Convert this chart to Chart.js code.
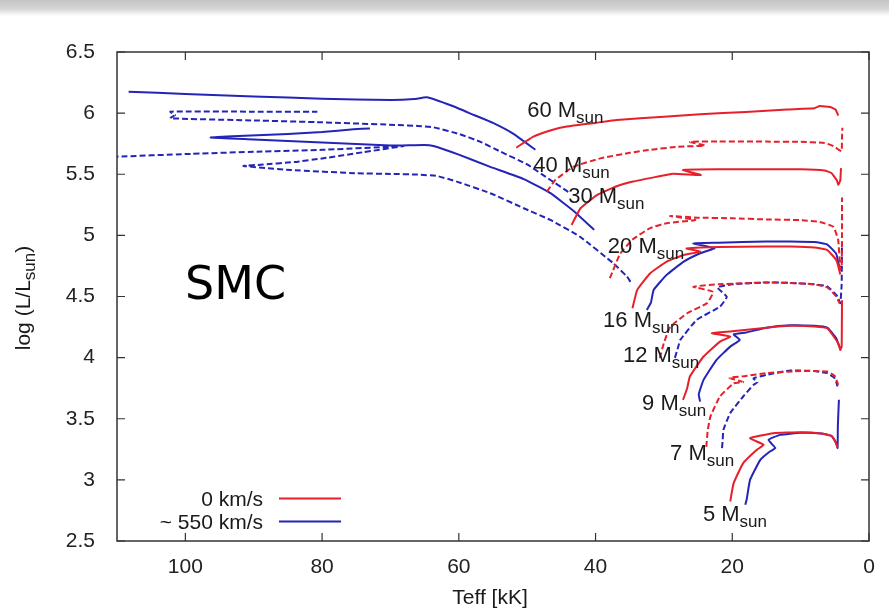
<!DOCTYPE html>
<html><head><meta charset="utf-8">
<script src="https://cdn.jsdelivr.net/npm/chart.js@4.4.1/dist/chart.umd.min.js"></script>
<style>
html,body{margin:0;padding:0;background:#fff;}
#wrap{position:relative;width:889px;height:612px;overflow:hidden;}
#band{position:absolute;left:0;top:0;width:889px;height:16px;background:linear-gradient(#c4c4c4,#d6d6d6 55%,#ffffff);}
canvas{position:absolute;left:0;top:0;}
</style></head>
<body><div id="wrap"><div id="band"></div><canvas id="c" width="889" height="612"></canvas></div>
<script>
// ---- data (Teff [kK], log L/Lsun) ----
const xTickValues = [100, 80, 60, 40, 20, 0];
const xTickLabels = ['100', '80', '60', '40', '20', '0'];
const yTickValues = [6.5, 6, 5.5, 5, 4.5, 4, 3.5, 3, 2.5];
const yTickLabels = ['6.5', '6', '5.5', '5', '4.5', '4', '3.5', '3', '2.5'];

// non-rotating (0 km/s)
const red60 = [[51.6,5.717],[49.1,5.807],[46.5,5.86],[44.2,5.89],[40.0,5.92],[36.9,5.944],[30.0,5.97],[24.7,5.99],[18.0,6.01],[12.0,6.03],[8.0,6.04],[7.2,6.058],[5.7,6.05],[4.9,6.03],[4.5,5.98]];
const red40 = [[47.1,5.358],[45.9,5.453],[43.2,5.562],[39.3,5.63],[35.0,5.675],[32.0,5.70],[28.0,5.725],[24.0,5.735],[26.2,5.765],[22.0,5.768],[15.0,5.767],[10.0,5.765],[6.5,5.756],[5.2,5.73],[4.4,5.70],[4.0,5.69],[3.95,5.80],[3.9,5.88]];
const red30 = [[43.5,5.085],[42.2,5.222],[39.8,5.33],[37.0,5.40],[34.5,5.44],[31.0,5.48],[28.7,5.505],[24.6,5.494],[27.2,5.535],[22.0,5.54],[15.0,5.54],[10.0,5.54],[6.5,5.53],[5.5,5.51],[4.7,5.45],[4.5,5.413],[4.2,5.45],[4.1,5.55]];
const red20 = [[37.9,4.65],[36.4,4.85],[34.5,4.97],[32.0,5.06],[29.6,5.10],[25.4,5.126],[29.1,5.159],[25.0,5.145],[20.0,5.14],[15.0,5.13],[10.0,5.125],[7.2,5.11],[5.2,5.07],[4.5,4.96],[4.2,4.72],[4.0,4.75],[3.95,5.0],[3.95,5.31]];
const red16 = [[34.6,4.404],[33.9,4.554],[32.0,4.69],[29.6,4.785],[27.1,4.84],[24.7,4.867],[26.7,4.893],[22.0,4.905],[15.0,4.91],[11.5,4.908],[8.0,4.90],[6.1,4.88],[4.8,4.80],[4.5,4.75],[4.2,4.68]];
const red12 = [[30.6,3.996],[30.0,4.12],[29.1,4.25],[26.6,4.363],[23.7,4.445],[22.8,4.538],[25.7,4.58],[22.0,4.60],[15.0,4.615],[11.5,4.611],[8.0,4.60],[6.1,4.575],[4.8,4.50],[4.3,4.445]];
const red9 = [[27.2,3.655],[26.6,3.75],[26.2,3.845],[24.2,4.009],[21.8,4.131],[20.3,4.172],[23.0,4.20],[20.0,4.215],[15.0,4.245],[11.5,4.26],[8.0,4.255],[6.1,4.24],[4.5,4.118],[4.2,4.063],[4.0,4.09],[3.95,4.47]];
const red7 = [[23.8,3.27],[23.6,3.40],[23.2,3.518],[21.8,3.682],[19.8,3.79],[18.4,3.80],[20.4,3.835],[18.0,3.85],[15.0,3.873],[10.0,3.89],[6.1,3.886],[5.0,3.85],[4.5,3.777]];
const red5 = [[20.3,2.823],[19.8,2.973],[18.4,3.137],[16.4,3.246],[15.4,3.287],[17.4,3.341],[14.0,3.382],[10.0,3.39],[7.0,3.38],[5.5,3.36],[4.8,3.30],[4.6,3.262]];

// rotating (~550 km/s)
const blue60 = [[48.8,5.70],[52.0,5.83],[55.0,5.92],[57.8,5.985],[61.0,6.06],[64.7,6.13],[66.5,6.115],[70.0,6.107],[80.0,6.118],[90.0,6.137],[100.0,6.157],[108.3,6.175]];
const blue40 = [[44.0,5.356],[46.6,5.453],[50.0,5.58],[53.9,5.685],[56.9,5.767],[60.0,5.83],[63.7,5.884],[66.0,5.895],[69.0,5.903],[80.0,5.925],[90.0,5.94],[102.2,5.958],[101.5,5.985],[102.2,6.012],[90.0,6.012],[80.7,6.012]];
const blue30 = [[40.2,5.045],[43.0,5.19],[46.6,5.345],[50.5,5.46],[55.4,5.56],[60.0,5.66],[63.7,5.731],[65.1,5.74],[70.0,5.735],[80.0,5.76],[90.0,5.785],[96.3,5.80],[94.0,5.808],[85.0,5.83],[80.0,5.845],[75.4,5.868],[73.0,5.875]];
const blue20 = [[34.9,4.62],[35.4,4.663],[37.4,4.772],[42.3,4.99],[46.6,5.126],[50.5,5.222],[55.4,5.345],[60.3,5.44],[63.2,5.486],[66.0,5.497],[70.0,5.503],[74.9,5.508],[84.6,5.535],[91.5,5.568],[89.0,5.578],[84.0,5.60],[79.8,5.631],[74.0,5.68],[68.1,5.731],[70.0,5.725],[80.0,5.70],[89.5,5.685],[100.0,5.665],[110.0,5.644]];
const blue16 = [[32.5,4.39],[31.9,4.45],[31.5,4.554],[29.6,4.677],[27.1,4.785],[24.7,4.854],[22.6,4.895],[25.7,4.935],[22.0,4.94],[15.0,4.95],[11.5,4.949],[8.0,4.945],[6.1,4.925],[4.8,4.85],[4.5,4.78],[4.2,4.71]];
const blue12 = [[28.4,3.998],[28.0,4.07],[27.6,4.145],[25.2,4.309],[21.8,4.417],[20.8,4.497],[22.2,4.575],[20.0,4.60],[15.0,4.615],[11.5,4.611],[8.0,4.60],[6.1,4.583],[4.6,4.50],[4.2,4.445],[4.0,4.6],[3.95,4.95]];
const blue9 = [[24.7,3.64],[24.9,3.70],[24.2,3.818],[22.3,3.982],[20.3,4.09],[18.9,4.145],[19.8,4.19],[18.0,4.205],[15.0,4.245],[11.5,4.265],[8.0,4.26],[6.1,4.245],[4.8,4.16],[4.4,4.10],[4.1,4.07]];
const blue7 = [[21.5,3.26],[21.4,3.33],[21.3,3.409],[20.3,3.546],[18.4,3.682],[16.9,3.777],[16.3,3.80],[16.9,3.83],[15.0,3.859],[11.5,3.895],[8.0,3.89],[6.1,3.873],[5.0,3.83],[4.6,3.764]];
const blue5 = [[18.1,2.796],[17.9,2.837],[17.4,3.0],[15.9,3.164],[14.5,3.232],[13.7,3.26],[14.7,3.327],[13.0,3.368],[10.0,3.385],[7.0,3.38],[5.5,3.36],[4.8,3.30],[4.6,3.262],[4.55,3.45],[4.4,3.655]];

const masses = ['60', '40', '30', '20', '16', '12', '9', '7', '5'];
const redTracks = [red60, red40, red30, red20, red16, red12, red9, red7, red5];
const blueTracks = [blue60, blue40, blue30, blue20, blue16, blue12, blue9, blue7, blue5];
const dashedMass = ['40', '20', '12', '7'];
// label anchors (Teff, logL) for the mass annotations
const labelT = [50.0, 49.1, 44.0, 38.2, 38.9, 36.0, 33.2, 29.1, 24.3];
const labelL = [5.97, 5.519, 5.263, 4.857, 4.254, 3.968, 3.573, 3.164, 2.66];
const legendLabels = ['0 km/s', '~ 550 km/s'];

// ---- styling ----
const RED = '#e6202a', BLUE = '#2424b8';
const FONT = '"Liberation Sans", Arial, Helvetica, sans-serif';

function mkSet(track, i, color) {
  const dashed = dashedMass.includes(masses[i]);
  return {
    data: track.map(p => ({x: p[0], y: p[1]})),
    showLine: true, pointRadius: 0, borderColor: color, backgroundColor: color,
    borderWidth: 2, borderDash: dashed ? [6, 3] : [], tension: 0.12, fill: false
  };
}
const datasets = redTracks.map((t, i) => mkSet(t, i, RED)).concat(blueTracks.map((t, i) => mkSet(t, i, BLUE)));

const deco = {
  id: 'deco',
  afterDraw(chart) {
    const {ctx, chartArea: a, scales: {x, y}} = chart;
    ctx.save();
    // frame
    ctx.strokeStyle = '#333'; ctx.lineWidth = 1.5; ctx.setLineDash([]);
    ctx.strokeRect(a.left, a.top, a.right - a.left, a.bottom - a.top);
    // inward ticks
    ctx.lineWidth = 1.2;
    const tl = 8;
    xTickValues.forEach(v => {
      const px = x.getPixelForValue(v);
      ctx.beginPath(); ctx.moveTo(px, a.bottom); ctx.lineTo(px, a.bottom - tl);
      ctx.moveTo(px, a.top); ctx.lineTo(px, a.top + tl); ctx.stroke();
    });
    yTickValues.forEach(v => {
      const py = y.getPixelForValue(v);
      ctx.beginPath(); ctx.moveTo(a.left, py); ctx.lineTo(a.left + tl, py);
      ctx.moveTo(a.right, py); ctx.lineTo(a.right - tl, py); ctx.stroke();
    });
    // mass labels
    ctx.fillStyle = '#1a1a1a'; ctx.textBaseline = 'alphabetic'; ctx.textAlign = 'left';
    masses.forEach((m, i) => {
      const px = x.getPixelForValue(labelT[i]), py = y.getPixelForValue(labelL[i]);
      ctx.font = '22px ' + FONT;
      const s = m + ' M';
      ctx.fillText(s, px, py);
      const w = ctx.measureText(s).width;
      ctx.font = '17px ' + FONT;
      ctx.fillText('sun', px + w, py + 6);
    });
    // legend
    ctx.font = '21px ' + FONT; ctx.textAlign = 'right';
    const lx = 263, ly = [506, 529], cols = [RED, BLUE];
    legendLabels.forEach((t, i) => {
      ctx.fillStyle = '#1a1a1a';
      ctx.fillText(t, lx, ly[i]);
      ctx.strokeStyle = cols[i]; ctx.lineWidth = 2;
      ctx.beginPath(); ctx.moveTo(279, ly[i] - 7.5); ctx.lineTo(341, ly[i] - 7.5); ctx.stroke();
    });
    // axis titles
    ctx.fillStyle = '#1a1a1a'; ctx.textAlign = 'center';
    ctx.font = '21px ' + FONT;
    ctx.fillText('Teff [kK]', 490, 604);
    ctx.save();
    ctx.translate(30, 298); ctx.rotate(-Math.PI / 2);
    const main = 'log (L/L', sub = 'sun', close = ')';
    ctx.font = '21px ' + FONT;
    const w1 = ctx.measureText(main).width;
    const w3 = ctx.measureText(close).width;
    ctx.font = '17px ' + FONT;
    const w2 = ctx.measureText(sub).width;
    const sx = -(w1 + w2 + w3) / 2;
    ctx.textAlign = 'left';
    ctx.font = '21px ' + FONT;
    ctx.fillText(main, sx, 0);
    ctx.font = '17px ' + FONT;
    ctx.fillText(sub, sx + w1, 5);
    ctx.font = '21px ' + FONT;
    ctx.fillText(close, sx + w1 + w2, 0);
    ctx.restore();
    // SMC
    ctx.font = '46px "DejaVu Sans", sans-serif'; ctx.textAlign = 'left'; ctx.fillStyle = '#000';
    ctx.fillText('SMC', 185, 299);
    ctx.restore();
  }
};

new Chart(document.getElementById('c'), {
  type: 'scatter',
  data: {datasets},
  options: {
    responsive: false, animation: false,
    layout: {padding: {left: 0, right: 20, top: 52, bottom: 0}},
    plugins: {legend: {display: false}, tooltip: {enabled: false}},
    scales: {
      x: {
        type: 'linear', reverse: true, min: 0, max: 110, position: 'bottom',
        afterFit: s => { s.height = 71; },
        afterBuildTicks: s => { s.ticks = xTickValues.map(v => ({value: v})); },
        grid: {display: false}, border: {display: false},
        ticks: {
          padding: 6, color: '#222', font: {size: 21, family: FONT},
          maxRotation: 0, autoSkip: false,
          callback: v => { const i = xTickValues.indexOf(v); return i >= 0 ? xTickLabels[i] : ''; }
        }
      },
      y: {
        type: 'linear', min: 2.5, max: 6.5,
        afterFit: s => { s.width = 117; },
        afterBuildTicks: s => { s.ticks = yTickValues.map(v => ({value: v})); },
        grid: {display: false}, border: {display: false},
        ticks: {
          padding: 14, color: '#222', font: {size: 21, family: FONT}, autoSkip: false,
          callback: v => { const i = yTickValues.indexOf(v); return i >= 0 ? yTickLabels[i] : ''; }
        }
      }
    }
  },
  plugins: [deco]
});
</script>
</body></html>
